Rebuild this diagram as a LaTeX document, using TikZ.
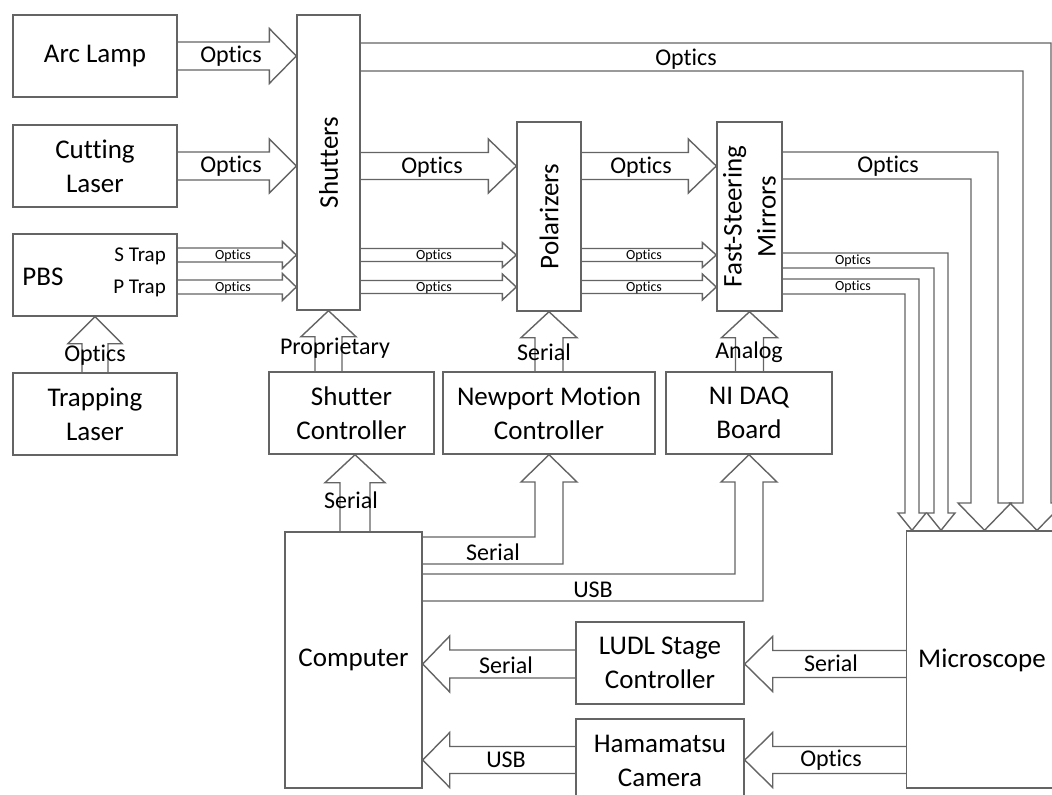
\documentclass[tikz,border=0pt]{standalone}
\usepackage{fontspec}
\setmainfont{Carlito}[Ligatures=NoCommon]
\usetikzlibrary{calc}
\definecolor{ln}{RGB}{100,100,100}
\newcommand\bxf{\fontsize{27}{34}\selectfont}
\newcommand\lblf{\fontsize{24}{28}\selectfont}
\newcommand\slblf{\fontsize{14}{16}\selectfont}
\newcommand\trapf{\fontsize{21}{24}\selectfont}
\tikzset{
  box/.style={draw=ln, line width=1.4pt, inner sep=0pt, align=center, font=\bxf},
  conn/.style={draw=ln, line width=1.4pt, line join=miter},
  txt/.style={inner sep=0pt, font=\bxf, align=center},
  lbl/.style={inner sep=0pt, font=\lblf},
  slbl/.style={inner sep=0pt, font=\slblf},
}
% straight block arrow: start, tip, shaft half width, head half width, head length
\newcommand\blockarrow[5]{%
  \path let \p1=(#1), \p2=(#2) in
    \pgfextra{%
      \pgfmathsetmacro\tmpLen{veclen(\x2-\x1,\y2-\y1)}%
      \pgfmathsetmacro\tmpAng{atan2(\y2-\y1,\x2-\x1)}%
      \global\let\baLen\tmpLen
      \global\let\baAng\tmpAng}%
    ;%
  \draw[conn,shift={(#1)},rotate=\baAng]
    (0,#3) -- (\baLen-#5,#3) -- (\baLen-#5,#4) -- (\baLen,0)
    -- (\baLen-#5,-#4) -- (\baLen-#5,-#3) -- (0,-#3);
}
\begin{document}
\begin{tikzpicture}[x=1pt,y=-1pt]
\useasboundingbox (0,0) rectangle (1052,795);
\fill[white] (0,0) rectangle (1052,795);

% ---- blocks ----
\node[box, minimum width=164, minimum height=82] (arc) at (95,56) {Arc Lamp};
\node[box, minimum width=164, minimum height=82] (cut) at (95,166) {Cutting\\Laser};
\node[box, minimum width=164, minimum height=82] (pbs) at (95,275) {};
\node[txt] (pbsT) at (43,277) {PBS};
\node[inner sep=0pt, font=\trapf, anchor=east] (strap) at (166,256) {S Trap};
\node[inner sep=0pt, font=\trapf, anchor=east] (ptrap) at (166,288) {P Trap};
\node[box, minimum width=164, minimum height=82] (trap) at (95,414) {Trapping\\Laser};

\node[box, minimum width=63, minimum height=295] (sh) at (328.5,162.5) {};
\node[txt, rotate=90] (shT) at (sh.center) {Shutters};
\node[box, minimum width=64, minimum height=189] (pol) at (549,216.5) {};
\node[txt, rotate=90] (polT) at (pol.center) {Polarizers};
\node[box, minimum width=65, minimum height=189] (fsm) at (749.5,216.5) {};
\node[txt, rotate=90] (fsmT) at (fsm.center) {Fast-Steering\\Mirrors};

\node[box, minimum width=165, minimum height=82] (shc) at (351.5,413) {Shutter\\Controller};
\node[box, minimum width=212, minimum height=82] (nmc) at (549,413) {Newport Motion\\Controller};
\node[box, minimum width=166, minimum height=82] (daq) at (749,413) {NI DAQ\\Board};

\node[box, minimum width=137, minimum height=256] (comp) at (353.5,660) {Computer};
\node[box, minimum width=168, minimum height=82] (ludl) at (660,663) {LUDL Stage\\Controller};
\node[box, minimum width=168, minimum height=83] (cam) at (660,760.5) {Hamamatsu\\Camera};
\node[box, minimum width=180, minimum height=257, anchor=west] (mic) at (906,659.5) {};
\node[txt] (micT) at (982,660) {Microscope};

% ---- row / column helpers ----
\coordinate (rB) at (0,166);
\coordinate (rS) at (0,255);
\coordinate (rP) at (0,287);
\coordinate (rL) at (0,664);
\coordinate (rC) at (0,760);
\coordinate (cA) at (355,0);

% ---- straight connectors ----
\blockarrow{arc.east}{arc.east -| sh.west}{14}{27.5}{27}
\blockarrow{cut.east}{cut.east -| sh.west}{14}{27}{27}
\blockarrow{pbs.east |- rS}{sh.west |- rS}{7}{13.5}{14}
\blockarrow{pbs.east |- rP}{sh.west |- rP}{7}{13.5}{14}
\blockarrow{trap.north}{pbs.south}{13}{27}{27}

\blockarrow{sh.east |- rB}{pol.west |- rB}{13.5}{27}{28}
\blockarrow{sh.east |- rS}{pol.west |- rS}{6.5}{12.5}{14}
\blockarrow{sh.east |- rP}{pol.west |- rP}{6.5}{13}{14}
\blockarrow{pol.east |- rB}{fsm.west |- rB}{13.5}{27}{28}
\blockarrow{pol.east |- rS}{fsm.west |- rS}{6.5}{12.5}{14}
\blockarrow{pol.east |- rP}{fsm.west |- rP}{6.5}{13}{14}

\blockarrow{sh.south |- shc.north}{sh.south}{13.5}{27.5}{26}
\blockarrow{pol.south |- nmc.north}{pol.south}{14}{28}{26}
\blockarrow{fsm.south |- daq.north}{fsm.south}{14}{28}{26}
\blockarrow{cA |- comp.north}{cA |- shc.south}{15}{30}{28}

\blockarrow{ludl.west |- rL}{comp.east |- rL}{14}{28}{27}
\blockarrow{mic.west |- rL}{ludl.east |- rL}{13.5}{27.5}{28}
\blockarrow{cam.west |- rC}{comp.east |- rC}{13.5}{27.5}{27}
\blockarrow{mic.west |- rC}{cam.east |- rC}{13.5}{27.5}{28}

% ---- routed connectors from the computer ----
\coordinate (nA) at (535,537);
\coordinate (nB) at (563,564);
\draw[conn] (comp.east |- nA) -- (nA) -- (535,482) -- (521,482) -- (nmc.south)
  -- (577,482) -- (563,482) -- (nB) -- (comp.east |- nB);
\coordinate (dA) at (735,574);
\coordinate (dB) at (763,601);
\draw[conn] (comp.east |- dA) -- (dA) -- (735,482) -- (721,482) -- (daq.south)
  -- (777,482) -- (763,482) -- (dB) -- (comp.east |- dB);

% ---- routed optical paths into the microscope ----
\coordinate (tA) at (1051,43);
\coordinate (tB) at (1023,71);
\coordinate (tX) at (1037,0);
\draw[conn] (sh.east |- tA) -- (tA) -- (1051,503) -- (1064,503) -- (tX |- mic.north)
  -- (1010,503) -- (1023,503) -- (tB) -- (sh.east |- tB);
\coordinate (fA) at (998,152);
\coordinate (fB) at (971,179);
\coordinate (fX) at (984.5,0);
\draw[conn] (fsm.east |- fA) -- (fA) -- (998,503) -- (1011,503) -- (fX |- mic.north)
  -- (958,503) -- (971,503) -- (fB) -- (fsm.east |- fB);
\coordinate (gA) at (948,253);
\coordinate (gB) at (934,268);
\coordinate (gX) at (941,0);
\draw[conn] (fsm.east |- gA) -- (gA) -- (948,513) -- (955,513) -- (gX |- mic.north)
  -- (927,513) -- (934,513) -- (gB) -- (fsm.east |- gB);
\coordinate (hA) at (919,279);
\coordinate (hB) at (905,294);
\coordinate (hX) at (912,0);
\draw[conn] (fsm.east |- hA) -- (hA) -- (919,513) -- (926,513) -- (hX |- mic.north)
  -- (898,513) -- (905,513) -- (hB) -- (fsm.east |- hB);

% ---- connector labels ----
\node[lbl] (l1) at (231,56) {Optics};
\node[lbl] (l2) at (231,166) {Optics};
\node[slbl] (l3) at (233,256) {Optics};
\node[slbl] (l4) at (233,288) {Optics};
\node[lbl] (l5) at (95,355) {Optics};
\node[lbl] (l6) at (432,167) {Optics};
\node[slbl] (l7) at (434,256) {Optics};
\node[slbl] (l8) at (434,288) {Optics};
\node[lbl] (l9) at (641,167) {Optics};
\node[slbl] (l10) at (644,256) {Optics};
\node[slbl] (l11) at (644,288) {Optics};
\node[lbl] (l12) at (686,59) {Optics};
\node[lbl] (l13) at (888,166) {Optics};
\node[slbl] (l14) at (853,261) {Optics};
\node[slbl] (l15) at (853,287) {Optics};
\node[lbl] (l16) at (335,348) {Proprietary};
\node[lbl] (l17) at (544,352) {Serial};
\node[lbl] (l18) at (749,352) {Analog};
\node[lbl] (l19) at (351,500) {Serial};
\node[lbl] (l20) at (493,552) {Serial};
\node[lbl] (l21) at (593,590) {USB};
\node[lbl] (l22) at (506,665) {Serial};
\node[lbl] (l23) at (831,663) {Serial};
\node[lbl] (l24) at (506,760) {USB};
\node[lbl] (l25) at (831,760) {Optics};
\end{tikzpicture}
\end{document}
